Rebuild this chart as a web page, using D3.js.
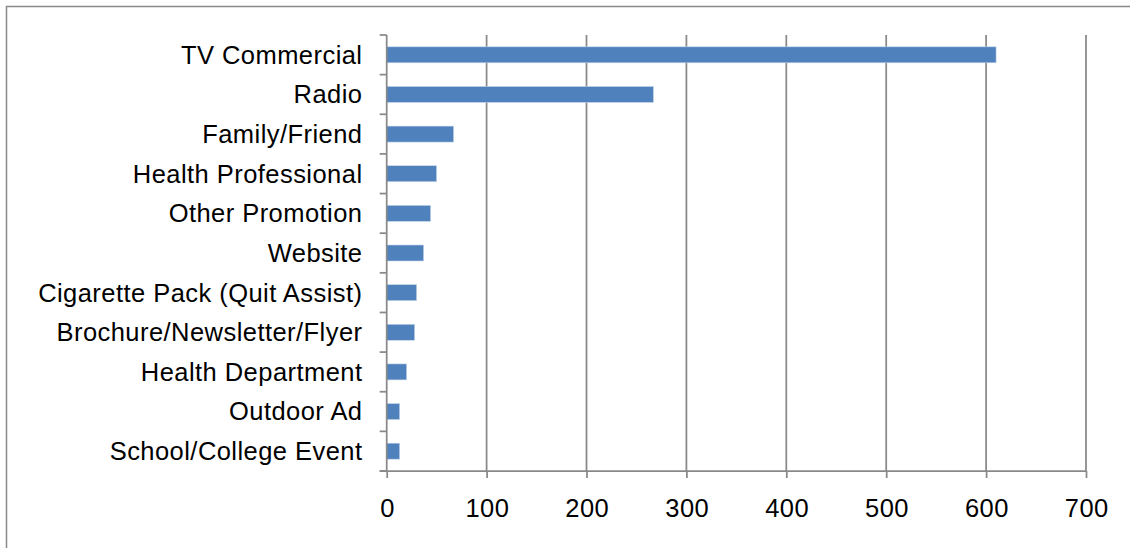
<!DOCTYPE html>
<html>
<head>
<meta charset="utf-8">
<script src="https://cdn.jsdelivr.net/npm/d3@7/dist/d3.min.js"></script>
<style>
  html, body { margin: 0; padding: 0; background: #fff; }
  svg { display: block; }
  text { font-family: "Liberation Sans", Arial, sans-serif; font-size: 25.5px; fill: #000; letter-spacing: 0.45px; }
</style>
</head>
<body>
<svg id="chart" width="1130" height="548"></svg>
<script>
// How respondents heard about the quitline
const categories = [
  "TV Commercial",
  "Radio",
  "Family/Friend",
  "Health Professional",
  "Other Promotion",
  "Website",
  "Cigarette Pack (Quit Assist)",
  "Brochure/Newsletter/Flyer",
  "Health Department",
  "Outdoor Ad",
  "School/College Event"
];
const counts = [610, 267, 67, 50, 44, 37, 30, 28, 20, 13, 13];
const tickValues = [0, 100, 200, 300, 400, 500, 600, 700];

const svg = d3.select("#chart");
const gridColor = "#898989";
const barColor = "#4F81BD";

// Outer chart border (runs off the right and bottom of the view)
svg.append("rect")
  .attr("x", 6.5).attr("y", 6.5)
  .attr("width", 1140).attr("height", 560)
  .attr("fill", "none")
  .attr("stroke", gridColor)
  .attr("stroke-width", 1.5);

const plot = { left: 386.7, right: 1086, top: 35, bottom: 471 };

const x = d3.scaleLinear().domain([0, 700]).range([plot.left, plot.right]);
const band = d3.scaleBand().domain(categories).range([plot.top, plot.bottom]);

// Vertical gridlines
svg.append("g")
  .selectAll("line")
  .data(tickValues.filter(d => d > 0))
  .join("line")
  .attr("x1", d => x(d)).attr("x2", d => x(d))
  .attr("y1", plot.top).attr("y2", plot.bottom)
  .attr("stroke", gridColor)
  .attr("stroke-width", 1.75);

// Bars
svg.append("g")
  .selectAll("rect")
  .data(categories)
  .join("rect")
  .attr("x", x(0))
  .attr("y", (d) => band(d) + band.bandwidth() / 2 - 8)
  .attr("width", (d, i) => x(counts[i]) - x(0))
  .attr("height", 16)
  .attr("fill", barColor)
  .attr("stroke", "#c9d7ea")
  .attr("stroke-width", 0.6);

// Bottom axis
const xAxis = d3.axisBottom(x)
  .tickValues(tickValues)
  .tickSize(7)
  .tickPadding(0)
  .tickFormat(d3.format("d"));
const gx = svg.append("g")
  .attr("transform", `translate(0,${plot.bottom})`)
  .call(xAxis);
gx.select(".domain").remove();
gx.selectAll(".tick line").attr("stroke", gridColor).attr("stroke-width", 1.75);
gx.selectAll(".tick text")
  .attr("y", 46)
  .attr("dy", null)
  .attr("dx", "0.3px")
  .attr("fill", "#000")
  .style("font-size", "25.5px")
  .style("font-family", "'Liberation Sans', Arial, sans-serif");
svg.append("line")
  .attr("x1", plot.left - 7).attr("x2", plot.right)
  .attr("y1", plot.bottom).attr("y2", plot.bottom)
  .attr("stroke", gridColor).attr("stroke-width", 1.75);

// Left axis with category labels
const bandTicks = categories.map(c => band(c)).concat([plot.bottom]);
svg.append("line")
  .attr("x1", plot.left).attr("x2", plot.left)
  .attr("y1", plot.top).attr("y2", plot.bottom)
  .attr("stroke", gridColor).attr("stroke-width", 1.75);
svg.append("g")
  .selectAll("line")
  .data(bandTicks)
  .join("line")
  .attr("x1", plot.left - 7).attr("x2", plot.left)
  .attr("y1", d => d).attr("y2", d => d)
  .attr("stroke", gridColor).attr("stroke-width", 1.75);

svg.append("g")
  .selectAll("text")
  .data(categories)
  .join("text")
  .attr("x", 362.5)
  .attr("y", d => band(d) + band.bandwidth() / 2)
  .attr("dy", "0.35em")
  .attr("text-anchor", "end")
  .text(d => d);
</script>
</body>
</html>
